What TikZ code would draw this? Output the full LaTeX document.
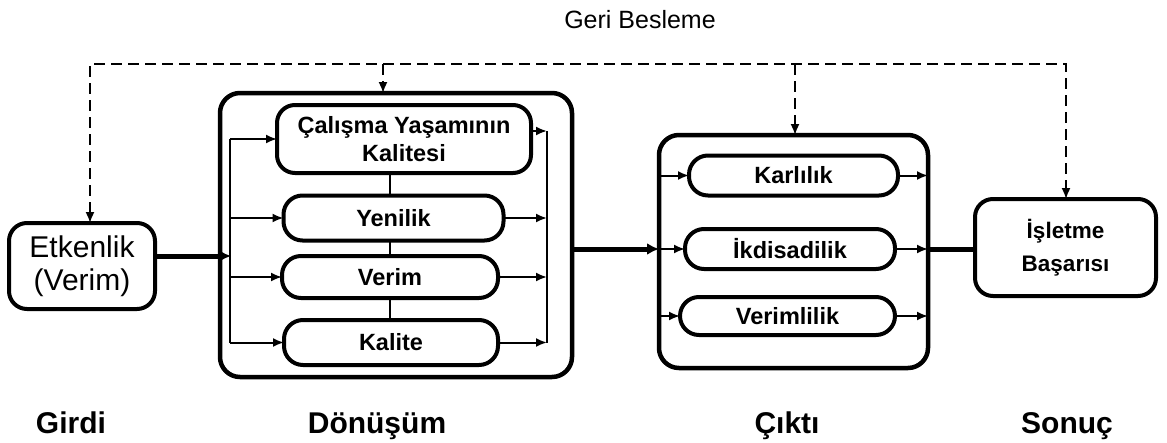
\documentclass[tikz,border=0pt]{standalone}
\usepackage{fontspec}
\setmainfont{Liberation Sans}
\usetikzlibrary{arrows.meta,calc}
\begin{document}
\begin{tikzpicture}[x=1pt,y=-1pt,
  every node/.style={inner sep=0pt, outer sep=0pt, align=center},
  >={Latex[length=11pt,width=9pt]},
  heavytip/.style={-{Latex[length=12pt,width=12pt]}},
  frame/.style={draw, line width=4.5pt, rounded corners=20pt},
  textbox/.style={draw, line width=4pt, rounded corners=18pt},
  pill/.style={draw, line width=4pt, rounded corners=19pt,
    font=\fontsize{23.5}{28}\selectfont\bfseries},
  wire/.style={line width=2pt},
  heavy/.style={line width=5pt},
  fb/.style={line width=1.6pt, dash pattern=on 11pt off 6pt},
  caption/.style={font=\fontsize{30}{34}\selectfont\bfseries, anchor=base}]
\useasboundingbox (0,0) rectangle (1167,442);

% title of the feedback loop
\node[font=\fontsize{25}{30}\selectfont] (geri) at (640,20) {Geri Besleme};

% input
\node[textbox, minimum width=146, minimum height=86,
  font=\fontsize{30}{33}\selectfont] (etk) at (82,266) {Etkenlik\\(Verim)};

% transformation block
\node[frame, minimum width=352, minimum height=284] (don) at (396,235) {};
\node[textbox, minimum width=254, minimum height=68,
  font=\fontsize{23.5}{28}\selectfont\bfseries] (cal) at (404,139)
  {Çalışma Yaşamının\\Kalitesi};
\node[pill, minimum width=220, minimum height=45] (yen) at (393.5,218) {Yenilik};
\node[pill, minimum width=216, minimum height=42] (ver) at (390,277) {Verim};
\node[pill, minimum width=214, minimum height=45] (kal) at (391,342.5) {Kalite};

% output block
\node[frame, minimum width=269, minimum height=233] (cik) at (793.5,251.5) {};
\node[pill, minimum width=209, minimum height=40] (kar) at (793.5,175.5) {Karlılık};
\node[pill, minimum width=210, minimum height=40] (ikd) at (790,249) {İkdisadilik};
\node[pill, minimum width=215, minimum height=38] (vml) at (787.5,316) {Verimlilik};

% result
\node[textbox, minimum width=181, minimum height=97,
  font=\fontsize{22.5}{33}\selectfont\bfseries] (isl) at (1065.5,247.5)
  {İşletme\\Başarısı};

% stage captions
\node[caption] (girdi) at (71,433) {Girdi};
\node[caption] (donusum) at (377,433) {Dönüşüm};
\node[caption] (cikti) at (787,433) {Çıktı};
\node[caption] (sonuc) at (1067,433) {Sonuç};

% distribution and collection rails inside the transformation block
\coordinate (lbT) at (230,139);
\coordinate (lbB) at (230,342.5);
\coordinate (rbT) at (547,131);
\coordinate (rbB) at (547,342.5);
\coordinate (mid) at (390,0);
\coordinate (jin) at (231,256);

\draw[wire] (lbT) -- (lbB);
\draw[wire] (rbT) -- (rbB);
\draw[wire,->] (lbT) -- (cal.west);
\draw[wire,->] (yen.west -| lbT) -- (yen.west);
\draw[wire,->] (ver.west -| lbT) -- (ver.west);
\draw[wire,->] (kal.west -| lbT) -- (kal.west);
\draw[wire,->] (cal.east |- rbT) -- (rbT);
\draw[wire,->] (yen.east) -- (yen.east -| rbT);
\draw[wire,->] (ver.east) -- (ver.east -| rbT);
\draw[wire,->] (kal.east) -- (kal.east -| rbT);
\draw[wire] (cal.south -| mid) -- (yen.north -| mid);
\draw[wire] (yen.south -| mid) -- (ver.north -| mid);
\draw[wire] (ver.south -| mid) -- (kal.north -| mid);

% main flow
\draw[heavy,heavytip] (etk.east |- jin) -- (jin);
\draw[heavy,heavytip] (don.east |- ikd) -- (cik.west |- ikd);
\draw[heavy] (ikd.east -| cik.east) -- (ikd.east -| isl.west);

% inside the output block
\draw[wire,->] (cik.west |- kar) -- (kar.west);
\draw[wire,->] (cik.west |- ikd) -- (ikd.west);
\draw[wire,->] (cik.west |- vml) -- (vml.west);
\draw[wire,->] (kar.east) -- (kar.east -| cik.east);
\draw[wire,->] (ikd.east) -- (ikd.east -| cik.east);
\draw[wire,->] (vml.east) -- (vml.east -| cik.east);

% feedback loop
\coordinate (fbL) at (90,64);
\coordinate (fbR) at (1066,64);
\coordinate (fb2) at (383,64);
\coordinate (fb3) at (795,64);
\draw[fb,<->] (fbL |- etk.north) -- (fbL) -- (fbR) -- (fbR |- isl.north);
\draw[fb,->] (fb2) -- (fb2 |- don.north);
\draw[fb,->] (fb3) -- (fb3 |- cik.north);
\end{tikzpicture}
\end{document}
